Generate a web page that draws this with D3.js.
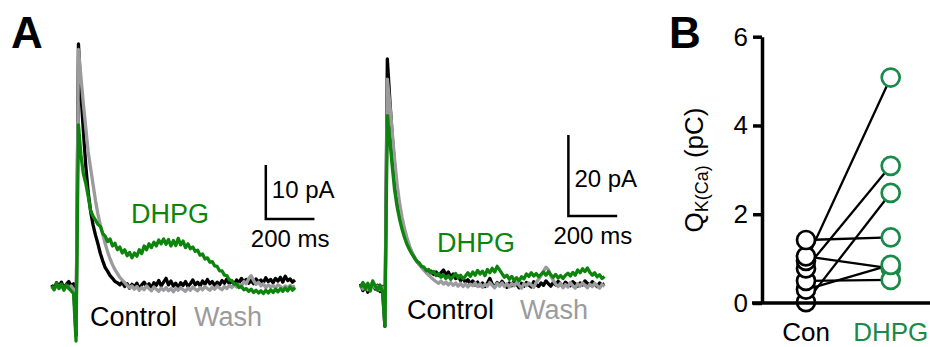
<!DOCTYPE html>
<html>
<head>
<meta charset="utf-8">
<script src="https://cdn.jsdelivr.net/npm/d3@7"></script>
<style>
  html, body { margin: 0; padding: 0; background: #fff; }
  svg text { font-family: "Liberation Sans", Arial, Helvetica, sans-serif; }
</style>
</head>
<body>
<svg id="chart" width="930" height="347"></svg>
<script>
// sampling interval of the traces (ms); first 10 samples are pre-stimulus, then the artifact, then the response
const dt = 10;

// panel A, left cell (pA)
const leftControl = [0.4, -0.3, 0.8, 0.1, 0.9, -0.2, 0.5, 1.0, 0.2, 0.6,
  -9,
  45, 36, 29, 22.5, 17.5, 14, 11.5, 9.6, 8, 6.2, 4.8, 3.6, 2.9, 2.1, 1.6, 1.0, 0.8, 0.4, 0.9, 0.1,
  0.6, -0.2, 0.5, 0.0, 0.7, -0.3, 0.4, 0.9, 0.1, 0.6, -0.2, 0.8, 0.3, 1.2, 0.2, 0.9, 1.6, 0.4, 1.1, 0.2,
  0.7, -0.1, 0.8, 0.3, 1.0, 0.1, 0.6, 1.3, 0.4, 0.9, 0.2, 1.1, 0.5, 1.4, 0.6, 1.0, 0.3, 0.9, 0.4, 1.2,
  0.7, 1.5, 0.6, 1.1, 0.5, 1.3, 0.8, 1.6, 0.9, 1.4, 0.7, 1.2, 0.6, 1.5, 0.9, 1.3, 0.8, 1.7, 1.0, 1.4,
  0.8, 1.6, 1.1, 1.8, 0.9, 2.0, 1.2, 1.5, 0.9, 1.3];
const leftWash = [0.0, -0.5, 0.3, -0.2, 0.4, -0.4, 0.1, -0.3, 0.2, -0.5,
  -8,
  44, 39, 34, 29.5, 25, 22, 19, 16, 13.5, 11.5, 9.7, 8, 6.5, 5.2, 4.1, 3.2, 2.5, 1.8, 1.3, 0.8,
  0.3, -0.1, 0.2, -0.4, 0.1, -0.6, -0.1, -0.5, 0.2, -0.3, -0.7, 0.0, -0.4, -0.8, -0.2, -0.6, -0.1, -0.7, -0.3, -0.9,
  -0.2, -0.6, -0.1, -0.5, -0.8, -0.2, -0.6, 0.0, -0.4, -0.7, -0.1, -0.5, 0.1, -0.3, -0.6, 0.0, -0.4, 0.2, -0.2, -0.5,
  0.1, -0.3, 0.3, -0.1, 0.4, 0.0, 0.5, 0.2, 1.0, 0.6, 1.6, 2.1, 1.2, 0.5, 0.9, 0.2, 0.6, -0.1, 0.4, 0.0,
  0.3, -0.2, 0.4, 0.1, -0.3, 0.2, -0.1, 0.3, 0.0, 0.2];
const leftDHPG = [0.2, -0.5, 0.7, -0.3, 0.5, -0.6, 0.4, -0.2, -0.7, -1.2,
  -10,
  30, 24.5, 21, 19.2, 16.8, 14.2, 13.1, 12.4, 11.6, 11.2, 9.9, 9.4, 8.4, 8.9, 7.6, 8.1, 6.9, 7.4, 6.3, 6.9,
  5.8, 6.4, 5.4, 6.3, 5.7, 6.9, 6.2, 7.6, 6.9, 8.0, 7.3, 8.3, 7.6, 8.7, 8.0, 8.9, 7.9, 8.8, 7.6, 8.6,
  7.7, 9.0, 7.8, 8.5, 7.3, 8.0, 7.1, 7.4, 6.6, 6.8, 5.9, 6.1, 5.2, 5.4, 4.6, 4.7, 3.9, 3.8, 3.0, 3.0,
  2.2, 2.1, 1.3, 1.2, 0.5, 0.6, -0.1, 0.1, -0.5, -0.3, -0.8, -0.4, -1.0, -0.6, -1.1, -0.7, -1.2, -0.6, -1.1, -0.5,
  -1.0, -0.4, -0.9, -0.3, -0.8, -0.2, -0.7, 0.0, -0.6, -0.1];

// panel A, right cell (pA)
const rightControl = [-0.5, -2.2, -0.8, -2.6, -1.0, -0.3, -1.8, -0.9, -2.4, -1.2,
  -11,
  55, 45, 36, 28.5, 22.5, 18, 15, 12.5, 10.5, 8.6, 7.2, 6.0, 5.1, 4.3, 3.8, 3.1, 2.9, 2.3, 2.6, 1.8,
  2.4, 1.5, 2.2, 2.9, 1.7, 2.4, 1.2, 1.9, 0.8, 1.4, 0.3, 0.9, -0.2, 0.5, -0.5, 0.2, -0.8, -0.1, -1.0, -0.3,
  -1.2, -0.4, 0.8, -0.6, -1.3, -0.2, -0.9, 0.1, -0.7, -1.4, -0.3, -1.0, 0.2, -0.6, -1.5, -0.4, -1.1, -0.2, -0.8, -1.3,
  0.0, -0.7, -1.2, -0.3, -0.9, 0.2, -0.5, -1.1, -0.2, -0.8, 0.1, -0.6, -1.2, -0.1, -0.7, -1.0, 0.0, -0.5, -1.1, -0.3,
  -0.8, 0.2, -0.4, -0.9, 0.0, -0.6, -1.2, -0.3, -0.8, -0.5];
const rightWash = [-1.0, -1.8, -0.6, -2.0, -0.9, -0.4, -1.5, -1.1, -2.0, -1.4,
  -10,
  50, 44, 37, 30, 24, 19.5, 16, 13.2, 11, 9, 7.5, 6.2, 5.2, 4.3, 3.5, 2.8, 2.2, 1.6, 1.0, 0.5,
  0.0, -0.4, 0.2, -0.6, -0.1, -0.8, -0.2, -0.9, -0.3, -1.1, -0.4, -1.2, -0.5, -1.3, -0.6, -1.0, -0.3, -1.2, -0.5, -1.4,
  -0.6, -1.1, -0.2, -0.9, -1.5, -0.4, -1.1, -0.3, -1.2, -0.5, -1.3, -0.4, -1.0, -0.2, -0.9, -1.6, -0.5, -1.0, -0.3, -0.8,
  -1.4, -0.2, 0.6, 1.5, 2.6, 3.6, 3.0, 1.4, 0.3, -0.6, -1.2, -0.4, -1.5, -0.7, -1.3, -0.2, -1.0, -1.6, -0.5, -1.1,
  -0.3, -0.9, -1.5, -0.6, -1.2, -0.4, -1.0, -1.6, -0.7, -1.2];
const rightDHPG = [-1.5, -0.2, -1.8, -0.4, -2.3, 0.2, -1.0, -2.1, -0.8, -2.5,
  -11,
  41, 35, 28.5, 22.5, 18.5, 15.5, 13, 11, 9.3, 8, 6.9, 6.1, 5.1, 4.7, 3.8, 3.6, 2.7, 3.0, 2.1, 2.5,
  1.5, 2.0, 1.1, 1.7, 0.8, 1.5, 0.6, 1.3, 2.0, 0.9, 1.6, 0.7, 1.4, 2.2, 1.3, 2.4, 1.6, 2.8, 1.9, 2.6,
  1.5, 3.0, 2.2, 3.3, 2.4, 3.8, 2.9, 2.0, 1.1, 1.6, 0.6, 1.3, 0.3, 1.0, 0.2, 1.2, 0.7, 1.9, 1.3, 2.2,
  1.4, 2.0, 1.2, 1.8, 2.4, 1.6, 2.5, 1.7, 1.1, 1.8, 0.9, 1.5, 0.8, 1.6, 2.1, 1.4, 2.3, 1.6, 2.9, 2.2,
  3.2, 2.5, 3.4, 2.3, 1.6, 2.2, 1.2, 1.7, 0.8, 1.3];

// panel B, QK(Ca) per cell (pC), paired by index
const groups = ["Con", "DHPG"];
const qCon  = [1.42, 1.05, 0.95, 0.78, 0.50, 0.30, 0.02];
const qDHPG = [1.48, 0.78, 5.08, 3.09, 0.52, 0.86, 2.48];
const yTicks = [0, 2, 4, 6];

const black = "#000", gray = "#9b9b9d", green = "#0d850d", ringGreen = "#1a8a48";
const svg = d3.select("#chart");

function drawCell(o) {
  const x = d3.scaleLinear().domain([0, 1000]).range(o.xRange);
  const y = d3.scaleLinear().domain([0, o.pA]).range([o.y0, o.y0 - o.pxPer * o.pA]);
  const line = d3.line().x((d, i) => x(i * dt)).y(d => y(d));
  const g = svg.append("g");
  [[o.control, black], [o.wash, gray], [o.dhpg, green]].forEach(([vals, c]) => {
    g.append("path").datum(vals).attr("d", line)
      .attr("fill", "none").attr("stroke", c).attr("stroke-width", 3.3)
      .attr("stroke-linejoin", "round");
  });
  // scale bar
  const sb = o.bar;
  g.append("path")
    .attr("d", `M${x(sb.t)},${y(sb.v + o.pA)}V${y(sb.v)}H${x(sb.t + 200)}`)
    .attr("fill", "none").attr("stroke", black).attr("stroke-width", 2.5);
  g.append("text").attr("x", x(sb.t) + 6).attr("y", o.pALabelY)
    .attr("font-size", 24).text(o.pA + " pA");
  g.append("text").attr("x", x(sb.t + 100)).attr("y", o.msLabelY)
    .attr("text-anchor", "middle").attr("font-size", 24).text("200 ms");
  // legend words
  g.append("text").attr("x", o.dhpgLabel[0]).attr("y", o.dhpgLabel[1])
    .attr("font-size", 27).attr("fill", green).text("DHPG");
  g.append("text").attr("x", o.conLabel[0]).attr("y", o.conLabel[1])
    .attr("font-size", 27).attr("fill", black).text("Control");
  g.append("text").attr("x", o.washLabel[0]).attr("y", o.washLabel[1])
    .attr("font-size", 27).attr("fill", gray).text("Wash");
}

drawCell({
  control: leftControl, wash: leftWash, dhpg: leftDHPG,
  xRange: [51.7, 295], y0: 287, pxPer: 5.4, pA: 10,
  bar: { t: 880, v: 12.6 }, pALabelY: 198, msLabelY: 247,
  dhpgLabel: [131, 223], conLabel: [90, 326], washLabel: [194, 326]
});
drawCell({
  control: rightControl, wash: rightWash, dhpg: rightDHPG,
  xRange: [360.5, 604.5], y0: 281.7, pxPer: 4.05, pA: 20,
  bar: { t: 852, v: 16.2 }, pALabelY: 187, msLabelY: 244,
  dhpgLabel: [437, 252], conLabel: [407, 319], washLabel: [520, 319]
});

// panel letters
svg.append("text").attr("x", 11).attr("y", 48).attr("font-size", 44)
  .attr("font-weight", "bold").text("A");
svg.append("text").attr("x", 669).attr("y", 48).attr("font-size", 44)
  .attr("font-weight", "bold").text("B");

// panel B
const yB = d3.scaleLinear().domain([0, 6]).range([303, 36.7]);
const xB = d3.scalePoint().domain(groups).range([806, 890.7]);
const gB = svg.append("g");

const axis = gB.append("g").attr("transform", "translate(762,0)")
  .call(d3.axisLeft(yB).tickValues(yTicks).tickSize(9).tickSizeOuter(0).tickPadding(5)
    .tickFormat(d3.format("d")));
axis.select(".domain").attr("stroke-width", 3.5);
axis.selectAll(".tick line").attr("stroke-width", 3.5);
axis.selectAll(".tick text").attr("font-size", 26)
  .attr("font-family", "Liberation Sans, Arial, sans-serif");

const pairs = qCon.map((c, i) => ({ c, d: qDHPG[i] }));
gB.selectAll(".pair").data(pairs).enter().append("line")
  .attr("x1", xB("Con")).attr("y1", d => yB(d.c))
  .attr("x2", xB("DHPG")).attr("y2", d => yB(d.d))
  .attr("stroke", black).attr("stroke-width", 2.3);

gB.selectAll(".con").data(qCon.slice().sort(d3.ascending)).enter().append("circle")
  .attr("cx", xB("Con")).attr("cy", d => yB(d)).attr("r", 9)
  .attr("fill", "#fff").attr("stroke", black).attr("stroke-width", 2.7);
gB.selectAll(".dh").data(qDHPG).enter().append("circle")
  .attr("cx", xB("DHPG")).attr("cy", d => yB(d)).attr("r", 9)
  .attr("fill", "#fff").attr("stroke", ringGreen).attr("stroke-width", 2.7);

// x baseline over the lowest circle
gB.append("line").attr("x1", 752).attr("x2", 930)
  .attr("y1", yB(0)).attr("y2", yB(0))
  .attr("stroke", black).attr("stroke-width", 3.5);

gB.selectAll(".cat").data(groups).enter().append("text")
  .attr("x", d => xB(d)).attr("y", 341).attr("text-anchor", "middle")
  .attr("font-size", 26).attr("fill", (d, i) => i ? ringGreen : black).text(d => d);

const yl = gB.append("text").attr("transform", "translate(703,170) rotate(-90)")
  .attr("text-anchor", "middle").attr("font-size", 26);
yl.append("tspan").text("Q");
yl.append("tspan").attr("font-size", 18).attr("dy", 5).text("K(Ca)");
yl.append("tspan").attr("dy", -5).text(" (pC)");
</script>
</body>
</html>
